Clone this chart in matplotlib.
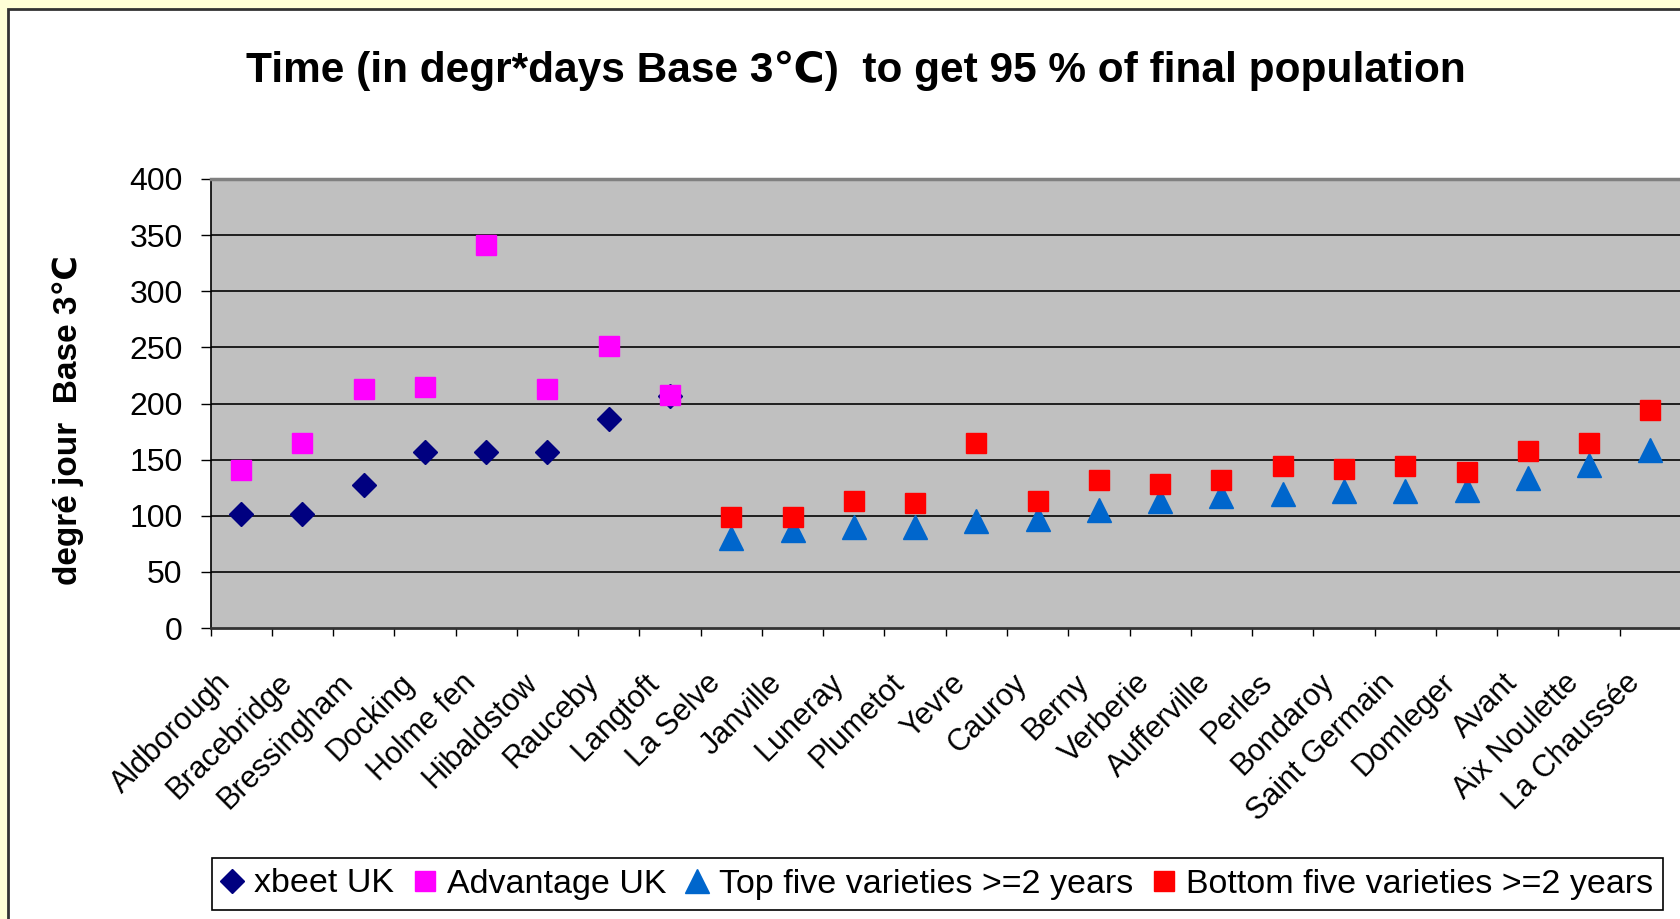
import matplotlib
matplotlib.use("Agg")
import matplotlib.pyplot as plt
from matplotlib.patches import Rectangle
from matplotlib.transforms import ScaledTranslation
import numpy as np

plt.rcParams['font.family'] = ['Liberation Sans', 'DejaVu Sans']

categories = ["Aldborough", "Bracebridge", "Bressingham", "Docking", "Holme fen",
              "Hibaldstow", "Rauceby", "Langtoft", "La Selve", "Janville", "Luneray",
              "Plumetot", "Yevre", "Cauroy", "Berny", "Verberie", "Aufferville",
              "Perles", "Bondaroy", "Saint Germain", "Domleger", "Avant",
              "Aix Noulette", "La Chaussée"]

xbeet_uk = [102, 102, 127, 157, 157, 157, 186, 207]
advantage_uk = [141, 165, 213, 215, 341, 213, 251, 208]
top_five = [80, 87, 90, 90, 95, 97, 105, 113, 118, 119, 122, 122, 123, 134, 145, 159]
bottom_five = [99, 99, 113, 111, 165, 113, 132, 128, 132, 144, 142, 144, 139, 158, 165, 194]

y_ticks = [0, 50, 100, 150, 200, 250, 300, 350, 400]

W, H = 1680, 919
fig = plt.figure(figsize=(W / 100, H / 100), dpi=100)
fig.patch.set_facecolor('#FFFFD6')

# chart area (white with dark border)
chart_bg = Rectangle((8 / W, -0.1), 1.2, 1.1 - 9 / H, transform=fig.transFigure,
                     facecolor='white', edgecolor='#333333', linewidth=2, zorder=-10)
fig.add_artist(chart_bg)

left, right = 210.5, 1681
top, bottom = 179, 628
ax = fig.add_axes([left / W, 1 - bottom / H, (right - left) / W, (bottom - top) / H])
ax.set_zorder(5)
ax.set_facecolor('#C0C0C0')

n = len(categories)
x_uk = np.arange(len(xbeet_uk))
x_fr = np.arange(len(xbeet_uk), n)

ax.plot(x_uk, xbeet_uk, linestyle='none', marker='D', markersize=12, color='#000080',
        label='xbeet UK', zorder=3)
ax.plot(x_uk, advantage_uk, linestyle='none', marker='s', markersize=15, color='#FF00FF',
        label='Advantage UK', zorder=4)
ax.plot(x_fr, top_five, linestyle='none', marker='^', markersize=17, color='#0066CC',
        label='Top five varieties >=2 years', zorder=3)
ax.plot(x_fr, bottom_five, linestyle='none', marker='s', markersize=15, color='#FF0000',
        label='Bottom five varieties >=2 years', zorder=4)

ax.set_xlim(-0.5, n - 0.5)
ax.set_ylim(0, 400)
ax.set_yticks(y_ticks)
ax.set_yticklabels([str(v) for v in y_ticks], fontsize=23)
ax.tick_params(axis='y', length=7, width=1, color='black', pad=13)
for v in y_ticks[1:-1]:
    ax.axhline(v, color='#111111', linewidth=1.3, zorder=1)

ax.set_xticks(np.arange(n))
ax.set_xticklabels(categories, fontsize=22, rotation=45, ha='right', va='center',
                   rotation_mode='anchor')
ax.tick_params(axis='x', which='major', length=0, pad=35)
shift = ScaledTranslation(-15 / 100, -2 / 100, fig.dpi_scale_trans)
for lab in ax.get_xticklabels():
    lab.set_transform(lab.get_transform() + shift)
ax.set_xticks(np.arange(n + 1) - 0.5, minor=True)
ax.tick_params(axis='x', which='minor', length=6, width=1, color='black', direction='out')

ax.spines['top'].set_color('#808080')
ax.spines['top'].set_linewidth(2.5)
ax.spines['bottom'].set_color('#333333')
ax.spines['bottom'].set_linewidth(2)
ax.spines['left'].set_color('black')
ax.spines['left'].set_linewidth(1.2)
ax.spines['right'].set_visible(False)

fig.text(856 / W, 1 - 82 / H, "Time (in degr*days Base 3℃)  to get 95 % of final population",
         ha='center', va='baseline', fontsize=30.5, fontweight='bold')
fig.text(68 / W, 1 - 420 / H, "degré jour  Base 3℃", rotation=90, ha='center',
         va='center', fontsize=24, fontweight='bold')

leg = fig.legend(loc='center', bbox_to_anchor=((207 + 1668) / 2 / W, 1 - 884 / H),
                 ncol=4, fontsize=24.5, frameon=True, fancybox=False, framealpha=1,
                 edgecolor='black', handlelength=0.6, handletextpad=0.35,
                 columnspacing=0.6, borderpad=0.3, borderaxespad=0)
leg.get_frame().set_linewidth(1.2)
leg.set_zorder(6)

fig.savefig('out.png', dpi=100, facecolor=fig.get_facecolor())
